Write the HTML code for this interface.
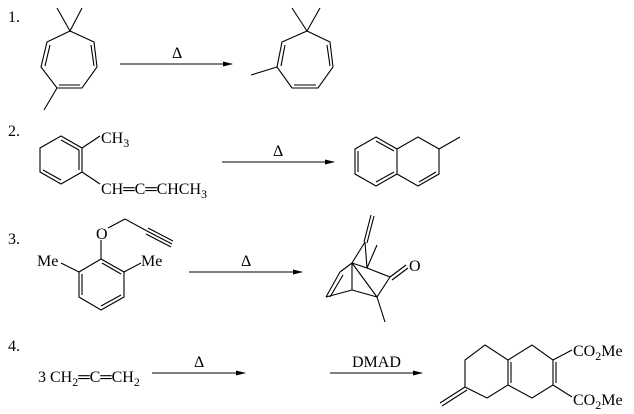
<!DOCTYPE html>
<html><head><meta charset="utf-8"><style>
html,body{margin:0;padding:0;background:#fff}
svg{display:block}
text{font-family:"Liberation Serif",serif;font-size:16px;fill:#000}
</style></head><body>
<svg width="634" height="414" viewBox="0 0 634 414" xmlns="http://www.w3.org/2000/svg">
<defs><marker id="ah" markerWidth="10" markerHeight="6" refX="9" refY="3" orient="auto" markerUnits="userSpaceOnUse"><path d="M0,0.5 L10,3 L0,5.5 z" fill="#000"/></marker></defs>
<g stroke="#000" stroke-width="1.1" fill="none">
<polyline points="57,8 70,31 82,8"/>
<polygon points="70,31 94,42 97,67 82,88 57,88 41,67 47,42"/>
<line x1="50" y1="45" x2="45" y2="66"/><line x1="91" y1="45" x2="94" y2="66"/><line x1="59" y1="85" x2="80" y2="85"/>
<line x1="57" y1="88" x2="44" y2="110"/>
<line x1="120" y1="64" x2="232" y2="64" marker-end="url(#ah)"/>
<polyline points="292,8 307,31 320,8"/>
<polygon points="307,31 330,42 333,67 318,88 292,88 277,67 282,42"/>
<line x1="285" y1="45" x2="281" y2="66"/><line x1="327" y1="45" x2="330" y2="66"/><line x1="294" y1="85" x2="316" y2="85"/>
<line x1="277" y1="67" x2="251" y2="75"/>
<polygon points="61,136 82,148 82,172 61,184 40,172 40,148"/>
<line x1="61" y1="140" x2="79" y2="150"/><line x1="79" y1="150" x2="79" y2="170"/><line x1="43" y1="170" x2="61" y2="180"/>
<line x1="82" y1="148" x2="100" y2="136"/><line x1="82" y1="172" x2="100" y2="184"/>
<line x1="222" y1="162" x2="334" y2="162" marker-end="url(#ah)"/>
<polygon points="376,137 397,149 397,174 376,186 355,174 355,149"/>
<line x1="376" y1="141" x2="394" y2="151"/><line x1="358" y1="151" x2="358" y2="172"/><line x1="376" y1="182" x2="394" y2="172"/>
<polyline points="397,149 418,137 439,149 439,174 418,186 397,174"/>
<line x1="419" y1="182" x2="436" y2="172"/>
<line x1="439" y1="149" x2="460" y2="137"/>
<line x1="108" y1="228" x2="125" y2="219"/><line x1="125" y1="219" x2="147" y2="231"/>
<line x1="147" y1="231" x2="172" y2="244"/><line x1="148" y1="228" x2="173" y2="241"/><line x1="146" y1="234" x2="171" y2="247"/>
<line x1="101" y1="240" x2="101" y2="259"/>
<polygon points="101,259 124,272 124,297 101,310 79,297 79,272"/>
<line x1="102" y1="263" x2="121" y2="274"/><line x1="82" y1="274" x2="82" y2="295"/><line x1="101" y1="306" x2="121" y2="295"/>
<line x1="79" y1="272" x2="61" y2="263"/><line x1="124" y1="272" x2="141" y2="263"/>
<line x1="189" y1="272" x2="302" y2="272" marker-end="url(#ah)"/>
<line x1="371" y1="215" x2="364" y2="242"/><line x1="374" y1="216" x2="367" y2="243"/>
<line x1="365" y1="242" x2="352" y2="263"/><line x1="365" y1="242" x2="367" y2="268"/>
<line x1="367" y1="268" x2="377" y2="245"/>
<line x1="352" y1="263" x2="367" y2="268"/>
<line x1="367" y1="268" x2="390" y2="277"/>
<line x1="390" y1="277" x2="406" y2="265"/><line x1="392" y1="280" x2="408" y2="268"/>
<line x1="390" y1="277" x2="377" y2="297"/>
<line x1="352" y1="263" x2="377" y2="297"/>
<line x1="352" y1="263" x2="352" y2="290"/>
<line x1="352" y1="290" x2="377" y2="297"/>
<line x1="352" y1="263" x2="340" y2="272"/>
<line x1="340" y1="272" x2="326" y2="297"/><line x1="343" y1="275" x2="330" y2="297"/>
<line x1="326" y1="297" x2="352" y2="290"/>
<line x1="377" y1="297" x2="385" y2="322"/>
<line x1="152" y1="373" x2="245" y2="373" marker-end="url(#ah)"/>
<line x1="330" y1="373" x2="422" y2="373" marker-end="url(#ah)"/>
<polygon points="485,345 508,360 508,385 487,398 465,387 465,360"/>
<polyline points="508,360 532,345 553,360 553,385 532,398 508,385"/>
<line x1="511" y1="362" x2="511" y2="383"/><line x1="556" y1="362" x2="556" y2="383"/>
<line x1="465" y1="387" x2="440" y2="403"/><line x1="467" y1="390" x2="442" y2="406"/>
<line x1="553" y1="360" x2="572" y2="350"/><line x1="553" y1="385" x2="572" y2="397"/>
</g>
<text x="8" y="22">1.</text>
<text x="172" y="58">Δ</text>
<text x="8" y="136">2.</text>
<text x="101" y="143">CH<tspan font-size="12" dy="4">3</tspan></text>
<text x="101" y="194">CH═C═CHCH<tspan font-size="12" dy="4">3</tspan></text>
<text x="273" y="156">Δ</text>
<text x="8" y="244">3.</text>
<text x="96" y="239">O</text>
<text x="37" y="266">Me</text>
<text x="141" y="266">Me</text>
<text x="241" y="266">Δ</text>
<text x="409" y="271">O</text>
<text x="8" y="351">4.</text>
<text x="38" y="382">3 CH<tspan font-size="12" dy="4">2</tspan><tspan dy="-4">═C═CH</tspan><tspan font-size="12" dy="4">2</tspan></text>
<text x="194" y="367">Δ</text>
<text x="352" y="367">DMAD</text>
<text x="573" y="356">CO<tspan font-size="12" dy="4">2</tspan><tspan dy="-4">Me</tspan></text>
<text x="573" y="405">CO<tspan font-size="12" dy="4">2</tspan><tspan dy="-4">Me</tspan></text>
</svg>
</body></html>
